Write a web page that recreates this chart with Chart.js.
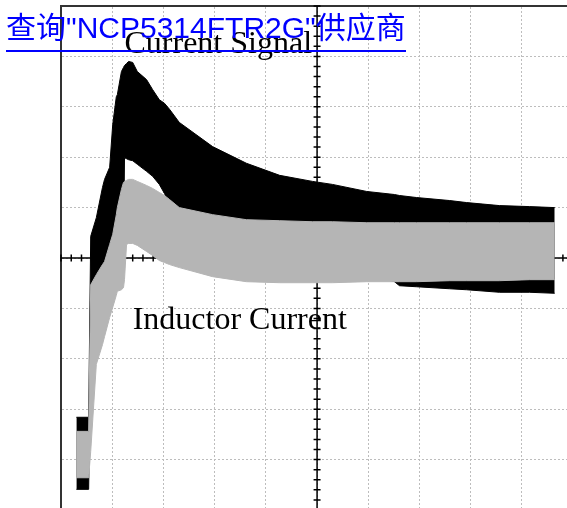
<!DOCTYPE html>
<html>
<head>
<meta charset="utf-8">
<script src="https://cdn.jsdelivr.net/npm/chart.js@4.4.1/dist/chart.umd.min.js"></script>
<style>
    body { margin: 0; background: #fff; overflow: hidden; }
    #wrap { position: relative; width: 567px; height: 508px; }
    #link {
        position: absolute; left: 6px; top: 12px;
        font-family: "Liberation Sans", "Noto Sans CJK SC", sans-serif;
        font-size: 30px; line-height: 32px;
        color: #0000ff; text-decoration: none; white-space: nowrap;
        padding-bottom: 6px;
        border-bottom: 2px solid #0000ff;
    }
</style>
</head>
<body>
<div id="wrap">
    <canvas id="scope" width="567" height="508"></canvas>
    <a id="link" href="#">查询"NCP5314FTR2G"供应商</a>
</div>
<script>
// waktu (divisi) dan amplitudo (divisi) dibaca dari layar osiloskop
const t = [0.30, 0.54, 0.58, 0.69, 0.81, 0.85, 0.95, 1.01, 1.08, 1.10, 1.18, 1.22, 1.24, 1.28, 1.32, 1.40, 1.49, 1.67, 1.79, 1.92, 2.02, 2.12, 2.31, 2.96, 3.62, 4.27, 4.91, 5.30, 5.97, 6.51, 6.61, 6.94, 7.59, 7.92, 8.56, 9.15, 9.64];

// Current Signal (hitam): puncak atas & bawah
const signalHigh = [-3.16, -3.16, 0.43, 0.80, 1.40, 1.56, 1.80, 2.65, 3.20, 3.24, 3.70, 3.78, 3.82, 3.86, 3.90, 3.88, 3.70, 3.54, 3.34, 3.14, 3.07, 2.95, 2.69, 2.21, 1.88, 1.64, 1.52, 1.46, 1.32, 1.26, 1.24, 1.20, 1.14, 1.10, 1.04, 1.02, 1.00];
const signalLow = [-4.59, -4.59, -1.66, -1.16, -0.43, -0.33, -0.13, -0.03, 0.03, 0.05, 0.07, 0.07, 1.99, 1.97, 1.95, 1.93, 1.86, 1.72, 1.62, 1.46, 1.28, 1.06, 0.86, 0.57, 0.37, 0.17, -0.03, -0.13, -0.33, -0.47, -0.55, -0.57, -0.61, -0.63, -0.68, -0.68, -0.70];

// Inductor Current (abu-abu): puncak atas & bawah
const inductorHigh = [-3.44, -3.44, -0.53, -0.33, -0.13, -0.07, 0.27, 0.47, 0.86, 1.00, 1.36, 1.50, 1.52, 1.54, 1.56, 1.56, 1.52, 1.44, 1.38, 1.30, 1.24, 1.16, 1.00, 0.86, 0.76, 0.74, 0.72, 0.72, 0.70, 0.70, 0.70, 0.70, 0.70, 0.70, 0.70, 0.70, 0.70];
const inductorLow = [-4.36, -4.36, -3.84, -2.11, -1.72, -1.56, -1.18, -0.98, -0.74, -0.66, -0.63, -0.59, -0.43, 0.27, 0.29, 0.29, 0.25, 0.13, 0.05, -0.05, -0.09, -0.13, -0.19, -0.37, -0.47, -0.49, -0.49, -0.49, -0.47, -0.47, -0.47, -0.47, -0.45, -0.45, -0.45, -0.43, -0.43];

// label teks di layar
const labels = [
    { text: 'Current Signal', t: 1.24, v: 4.07 },
    { text: 'Inductor Current', t: 1.40, v: -1.40 }
];

const toPoints = (values) => t.map((tt, i) => ({ x: tt, y: values[i] }));

const band = (values, color, fill) => ({
    data: toPoints(values),
    borderColor: color,
    backgroundColor: color,
    borderWidth: 1,
    pointRadius: 0,
    tension: 0,
    fill: fill
});

// sumbu tengah dengan tick kecil + label
const scopePlugin = {
    id: 'scope',
    beforeDatasetsDraw(chart) {
        const { ctx, chartArea, scales: { x, y } } = chart;
        const cx = x.getPixelForValue(5);
        const cy = y.getPixelForValue(0);
        ctx.save();
        ctx.strokeStyle = '#000';
        ctx.lineWidth = 1.5;
        ctx.beginPath();
        ctx.moveTo(cx, chartArea.top);
        ctx.lineTo(cx, chartArea.bottom);
        ctx.moveTo(chartArea.left, cy);
        ctx.lineTo(chartArea.right, cy);
        for (let i = 0; i <= 50; i++) {
            const px = x.getPixelForValue(i * 0.2);
            ctx.moveTo(px, cy - 3.5);
            ctx.lineTo(px, cy + 3.5);
        }
        for (let i = -25; i <= 25; i++) {
            const py = y.getPixelForValue(i * 0.2);
            ctx.moveTo(cx - 3.5, py);
            ctx.lineTo(cx + 3.5, py);
        }
        ctx.stroke();
        ctx.restore();
    },
    afterDatasetsDraw(chart) {
        const { ctx, scales: { x, y } } = chart;
        ctx.save();
        ctx.fillStyle = '#000';
        ctx.font = '32px "Liberation Serif", serif';
        ctx.textBaseline = 'alphabetic';
        labels.forEach(l => {
            ctx.fillText(l.text, x.getPixelForValue(l.t), y.getPixelForValue(l.v));
        });
        ctx.restore();
    }
};

const ctx = document.getElementById('scope').getContext('2d');
const chart = new Chart(ctx, {
    type: 'line',
    data: {
        datasets: [
            band(inductorHigh, '#b5b5b5', '+1'),
            band(inductorLow, '#b5b5b5', false),
            band(signalHigh, '#000000', '+1'),
            band(signalLow, '#000000', false)
        ]
    },
    options: {
        responsive: false,
        animation: false,
        layout: { padding: { left: 61, top: 6, right: 0, bottom: 0 } },
        plugins: {
            legend: { display: false },
            tooltip: { enabled: false }
        },
        scales: {
            x: {
                type: 'linear',
                position: 'top',
                min: 0,
                max: 9.88,
                ticks: { display: false, stepSize: 1, includeBounds: false },
                grid: { color: '#bdbdbd', lineWidth: 1, drawTicks: false },
                border: { display: true, color: '#333', width: 2, dash: [2, 2] }
            },
            y: {
                type: 'linear',
                position: 'left',
                min: -4.96,
                max: 5,
                ticks: { display: false, stepSize: 1, includeBounds: false },
                grid: { color: '#bdbdbd', lineWidth: 1, drawTicks: false },
                border: { display: true, color: '#333', width: 2, dash: [2, 2] }
            }
        }
    },
    plugins: [scopePlugin]
});
</script>
</body>
</html>
